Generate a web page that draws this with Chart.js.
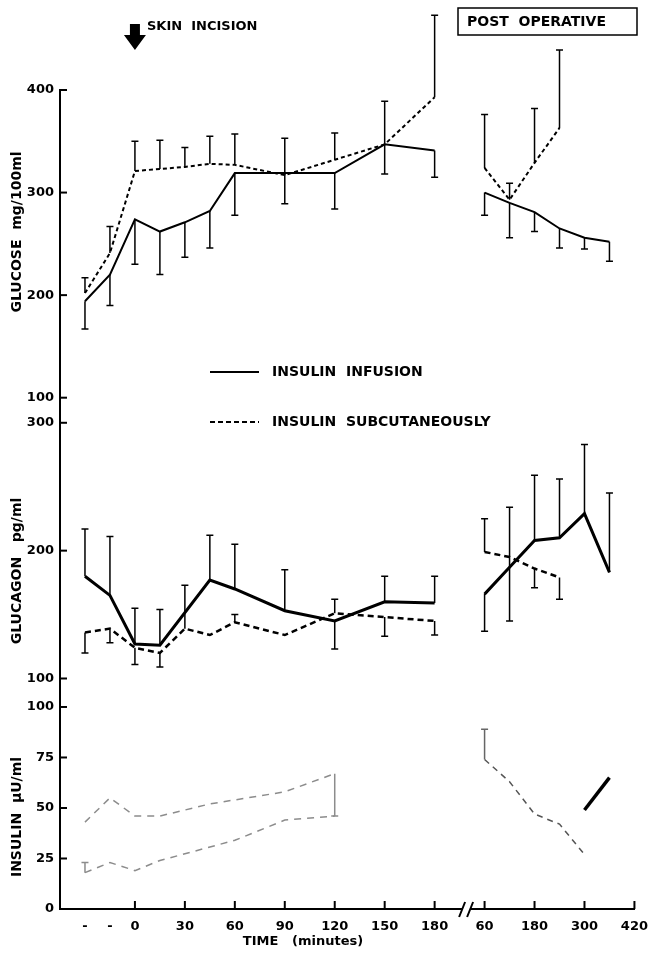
<!DOCTYPE html>
<html><head><meta charset="utf-8">
<script src="https://cdn.jsdelivr.net/npm/chart.js@4/dist/chart.umd.min.js"></script>
<style>html,body{margin:0;padding:0;background:#fff}#wrap{width:658px;height:953px;position:relative}</style>
</head><body><div id="wrap"><canvas id="c" width="658" height="953"></canvas></div>
<script>
// ---- x axis slots (minutes) ----
const preSlots = [-30,-15,0,15,30,45,60,75,90,105,120,135,150,165,180];
const postSlots = [60,120,180,240,300,360,420];
const preTickLabels = ['-','-','0','','30','','60','','90','','120','','150','','180'];
const postTickLabels = ['60','','180','','300','','420'];

const preTimes = [-30,-15,0,15,30,45,60,90,120,150,180];
const postTimes = [60,120,180,240,300,360];
const postTimesSub = [60,120,180,240];

// ---- Glucose mg/100ml ----
const glucoseInfPre   = [194,220,274,262,271,282,319,319,319,347,341];
const glucoseInfPreLo = [167,190,230,220,237,246,278,289,284,318,315];
const glucoseSubPre   = [202,241,321,323,325,328,327,317,332,347,393];
const glucoseSubPreHi = [217,267,350,351,344,355,357,353,358,389,473];
const glucoseInfPost   = [300,290,281,265,256,252];
const glucoseInfPostLo = [278,256,262,246,245,233];
const glucoseSubPost   = [324,293,329,363];
const glucoseSubPostHi = [376,309,382,439];

// ---- Glucagon pg/ml ----
const glucagonInfPre   = [180,165,127,126,null,177,170,153,145,160,159];
const glucagonInfPreHi = [217,211,155,154,null,212,205,185,null,180,180];
const glucagonInfPreLo = [null,null,null,null,null,null,null,null,123,null,null];
const glucagonSubPre   = [136,139,124,120,139,134,144,134,151,148,145];
const glucagonSubPreHi = [null,null,null,null,173,null,150,null,162,null,null];
const glucagonSubPreLo = [120,128,111,109,null,null,null,null,null,133,134];
const glucagonInfPost   = [166,187,208,210,229,183];
const glucagonInfPostHi = [null,234,259,256,283,245];
const glucagonInfPostLo = [137,145,null,null,null,null];
const glucagonSubPost   = [199,195,186,179];
const glucagonSubPostHi = [225,null,null,null];
const glucagonSubPostLo = [null,null,171,162];

// ---- Insulin µU/ml (faded in original) ----
const insulinUpperPre   = [43,55,46,46,49,52,null,58,67,null,null];
const insulinUpperPreLo = [null,null,null,null,null,null,null,null,46,null,null];
const insulinLowerPre   = [18,23,19,24,null,null,34,44,46,null,null];
const insulinLowerPreHi = [23,null,null,null,null,null,null,null,null,null,null];
const insulinAPost   = [74,63,47,42,27,null];
const insulinAPostHi = [89,null,null,null,null,null];
const insulinBPost   = [null,null,null,null,49,65];

// ---- y tick values ----
const glucoseTicks = [100,200,300,400];
const glucagonTicks = [100,200,300];
const insulinTicks = [0,25,50,75,100];

const labels = ['', ...preTickLabels, '', ...postTickLabels];
const postStart = 2 + preSlots.length;
function placePre(times, vals){
  const a = new Array(labels.length).fill(null);
  if(!vals) return null;
  times.forEach((t,i)=>{ a[1+preSlots.indexOf(t)] = vals[i]; });
  return a;
}
function placePost(times, vals){
  const a = new Array(labels.length).fill(null);
  if(!vals) return null;
  times.forEach((t,i)=>{ a[postStart+postSlots.indexOf(t)] = vals[i]; });
  return a;
}
function ds(axis, data, hi, lo, style){
  return Object.assign({yAxisID: axis, data, errHi: hi, errLo: lo, borderColor:'#000', borderWidth:2,
    pointRadius:0, pointHoverRadius:0, tension:0, spanGaps:true, fill:false, errWidth:1.5}, style);
}
const SOLID = {borderWidth:2};
const DASH = {borderWidth:2, borderDash:[4,3]};
const GSOLID = {borderWidth:3};
const GDASH = {borderWidth:2.5, borderDash:[6,4]};
const FADE = {borderWidth:1.5, borderColor:'#8c8c8c', borderDash:[7,6], errColor:'#8c8c8c'};
const FADE2 = {borderWidth:1.5, borderColor:'#555', borderDash:[6,5], errColor:'#666'};

const datasets = [
  ds('yGlu', placePre(preTimes, glucoseInfPre), null, placePre(preTimes, glucoseInfPreLo), SOLID),
  ds('yGlu', placePre(preTimes, glucoseSubPre), placePre(preTimes, glucoseSubPreHi), null, DASH),
  ds('yGlu', placePost(postTimes, glucoseInfPost), null, placePost(postTimes, glucoseInfPostLo), SOLID),
  ds('yGlu', placePost(postTimesSub, glucoseSubPost), placePost(postTimesSub, glucoseSubPostHi), null, DASH),
  ds('yGcg', placePre(preTimes, glucagonInfPre), placePre(preTimes, glucagonInfPreHi), placePre(preTimes, glucagonInfPreLo), GSOLID),
  ds('yGcg', placePre(preTimes, glucagonSubPre), placePre(preTimes, glucagonSubPreHi), placePre(preTimes, glucagonSubPreLo), GDASH),
  ds('yGcg', placePost(postTimes, glucagonInfPost), placePost(postTimes, glucagonInfPostHi), placePost(postTimes, glucagonInfPostLo), GSOLID),
  ds('yGcg', placePost(postTimesSub, glucagonSubPost), placePost(postTimesSub, glucagonSubPostHi), placePost(postTimesSub, glucagonSubPostLo), GDASH),
  ds('yIns', placePre(preTimes, insulinUpperPre), null, placePre(preTimes, insulinUpperPreLo), FADE),
  ds('yIns', placePre(preTimes, insulinLowerPre), placePre(preTimes, insulinLowerPreHi), null, FADE),
  ds('yIns', placePost(postTimes, insulinAPost), placePost(postTimes, insulinAPostHi), null, FADE2),
  ds('yIns', placePost(postTimes, insulinBPost), null, null, {borderWidth:3.5})
];

const FONT = 'DejaVu Sans';
const tickFont = {family: FONT, weight:'bold', size:13};
function yScale(min, max, weight, stackWeight, tickVals){
  return {type:'linear', position:'left', stack:'v', stackWeight, weight, min, max,
    grid:{display:false, drawTicks:false}, border:{display:true, color:'#000', width:2},
    ticks:{color:'#000', font:tickFont, padding:6},
    afterBuildTicks(s){ s.ticks = tickVals.map(v=>({value:v})); },
    afterFit(s){ s.width = 60; }};
}

const overlay = {
  id:'overlay',
  afterDatasetsDraw(chart){
    const ctx = chart.ctx;
    chart.data.datasets.forEach((d, di) => {
      const meta = chart.getDatasetMeta(di);
      const ys = chart.scales[d.yAxisID];
      ['errHi','errLo'].forEach(k => {
        const arr = d[k]; if(!arr) return;
        arr.forEach((b, i) => {
          if (b == null || d.data[i] == null) return;
          const x = meta.data[i].x, y0 = ys.getPixelForValue(d.data[i]), y1 = ys.getPixelForValue(b);
          ctx.save();
          ctx.strokeStyle = d.errColor || '#000'; ctx.lineWidth = d.errWidth; ctx.setLineDash([]);
          ctx.beginPath(); ctx.moveTo(x, y0); ctx.lineTo(x, y1);
          ctx.moveTo(x-3.5, y1); ctx.lineTo(x+3.5, y1); ctx.stroke();
          ctx.restore();
        });
      });
    });
  },
  afterDraw(chart){
    const ctx = chart.ctx, ca = chart.chartArea, xs = chart.scales.x;
    ctx.save();
    ctx.strokeStyle = '#000'; ctx.fillStyle = '#000'; ctx.setLineDash([]);
    // inward y ticks
    [['yGlu', glucoseTicks], ['yGcg', glucagonTicks], ['yIns', insulinTicks]].forEach(([id, vals]) => {
      const s = chart.scales[id];
      ctx.lineWidth = 2;
      vals.forEach(v => { const y = s.getPixelForValue(v); ctx.beginPath(); ctx.moveTo(ca.left, y); ctx.lineTo(ca.left+7, y); ctx.stroke(); });
    });
    // inward x ticks
    labels.forEach((l, i) => {
      if (l === '' || l === '-') return;
      const x = xs.getPixelForValue(i);
      ctx.lineWidth = 2;
      ctx.beginPath(); ctx.moveTo(x, ca.bottom); ctx.lineTo(x, ca.bottom-8); ctx.stroke();
    });
    // axis break
    const bx = (xs.getPixelForValue(postStart-1) + xs.getPixelForValue(postStart))/2 - 6;
    ctx.fillStyle = '#fff'; ctx.fillRect(bx-4, ca.bottom-3, 8, 6);
    ctx.fillStyle = '#000'; ctx.lineWidth = 2;
    ctx.beginPath(); ctx.moveTo(bx-7, ca.bottom+8); ctx.lineTo(bx-1, ca.bottom-7);
    ctx.moveTo(bx+1, ca.bottom+8); ctx.lineTo(bx+7, ca.bottom-7); ctx.stroke();
    // skin incision arrow at time 0
    const ax = xs.getPixelForValue(1 + preSlots.indexOf(0));
    ctx.beginPath();
    ctx.moveTo(ax-5, 24); ctx.lineTo(ax+5, 24); ctx.lineTo(ax+5, 35); ctx.lineTo(ax+11, 35);
    ctx.lineTo(ax, 50); ctx.lineTo(ax-11, 35); ctx.lineTo(ax-5, 35); ctx.closePath(); ctx.fill();
    ctx.font = 'bold 13px "' + FONT + '"'; ctx.textBaseline = 'middle'; ctx.textAlign = 'left';
    ctx.fillText('SKIN  INCISION', 147, 27);
    // post operative box
    ctx.lineWidth = 1.5;
    ctx.strokeRect(458, 8, 179, 27);
    ctx.font = 'bold 14px "' + FONT + '"';
    ctx.fillText('POST  OPERATIVE', 467, 22);
    // legend
    ctx.lineWidth = 2;
    ctx.beginPath(); ctx.moveTo(210, 372); ctx.lineTo(259, 372); ctx.stroke();
    ctx.setLineDash([5,3]);
    ctx.beginPath(); ctx.moveTo(210, 422); ctx.lineTo(259, 422); ctx.stroke();
    ctx.setLineDash([]);
    ctx.fillText('INSULIN  INFUSION', 272, 372);
    ctx.fillText('INSULIN  SUBCUTANEOUSLY', 272, 422);
    // x title
    ctx.font = 'bold 13px "' + FONT + '"'; ctx.textAlign = 'center';
    ctx.fillText('TIME   (minutes)', 303, 942);
    // y titles
    ctx.font = 'bold 14px "' + FONT + '"';
    [['GLUCOSE  mg/100ml', 232], ['GLUCAGON   pg/ml', 571], ['INSULIN  \u00b5U/ml', 817]].forEach(([t, cy]) => {
      ctx.save(); ctx.translate(17, cy); ctx.rotate(-Math.PI/2); ctx.fillText(t, 0, 0); ctx.restore();
    });
    ctx.restore();
  }
};

new Chart(document.getElementById('c'), {
  type:'line',
  data:{labels, datasets},
  options:{
    responsive:false, animation:false, devicePixelRatio:1,
    layout:{padding:{top:90, right:15, bottom:0, left:0}},
    plugins:{legend:{display:false}, tooltip:{enabled:false}, title:{display:false}},
    scales:{
      x:{type:'category', offset:false, grid:{display:false, drawTicks:false},
         border:{display:true, color:'#000', width:2},
         ticks:{autoSkip:false, maxRotation:0, minRotation:0, padding:10, color:'#000', font:tickFont},
         afterFit(s){ s.height = 44; }},
      yGlu: yScale(88, 400, 3, 320, glucoseTicks),
      yGcg: yScale(91, 310, 2, 280, glucagonTicks),
      yIns: yScale(0, 108.4, 1, 219, insulinTicks)
    }
  },
  plugins:[overlay]
});
</script></body></html>
